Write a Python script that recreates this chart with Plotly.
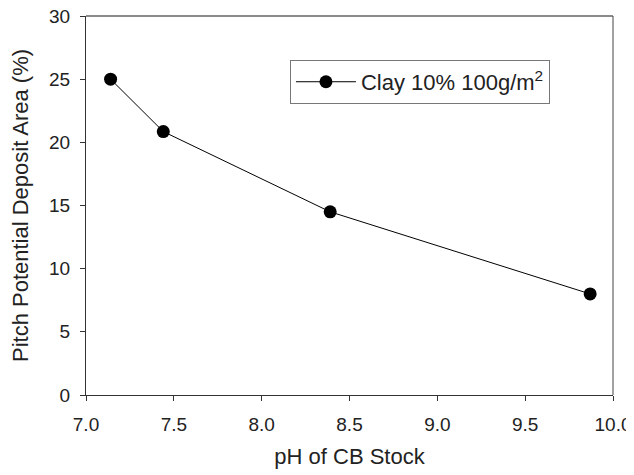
import plotly.graph_objects as go

ph = [7.14, 7.44, 8.39, 9.87]
area = [25.0, 20.85, 14.5, 8.0]
series_name = "Clay 10% 100g/m<sup>2</sup>"
x_ticks = [7.0, 7.5, 8.0, 8.5, 9.0, 9.5, 10.0]
x_ticklabels = ["7.0", "7.5", "8.0", "8.5", "9.0", "9.5", "10.0"]
y_ticks = [0, 5, 10, 15, 20, 25, 30]

font = "Liberation Sans, Arial, sans-serif"

fig = go.Figure()
fig.add_trace(go.Scatter(
    x=ph, y=area, mode="lines+markers", name=series_name,
    line=dict(color="black", width=1),
    marker=dict(color="black", size=13),
))

# page body has an 8px margin, so the figure is 8px smaller than the window
fig.update_layout(
    width=626, height=467,
    margin=dict(l=78, r=21, t=8, b=80, autoexpand=False),
    paper_bgcolor="white", plot_bgcolor="white",
    font=dict(family=font, size=19, color="#222"),
    showlegend=True,
    legend=dict(
        x=0.387, y=0.826, xanchor="left", yanchor="middle",
        bordercolor="#777", borderwidth=1, bgcolor="white",
        font=dict(size=22, color="#222"),
        itemwidth=60,
    ),
    xaxis=dict(
        range=[7.0, 10.0], tickvals=x_ticks, ticktext=x_ticklabels,
        showgrid=False, zeroline=False, automargin=False,
        showline=True, linecolor="#333", linewidth=1, mirror=False,
        ticks="outside", ticklen=5, tickcolor="#333",
        ticklabelstandoff=7, ticklabeloverflow="allow",
        title=dict(text="pH of CB Stock", standoff=14, font=dict(size=22)),
        tickfont=dict(size=19),
    ),
    yaxis=dict(
        range=[0, 30], tickvals=y_ticks,
        showgrid=False, zeroline=False, automargin=False,
        showline=True, linecolor="#333", linewidth=1, mirror=False,
        ticks="outside", ticklen=5, tickcolor="#333",
        ticklabelstandoff=6, ticklabeloverflow="allow",
        title=dict(text="Pitch Potential Deposit Area (%)", standoff=14, font=dict(size=22)),
        tickfont=dict(size=19),
    ),
)

# box border (top lighter/thicker, right dark)
fig.add_shape(type="line", xref="paper", yref="paper", x0=0, x1=1, y0=1, y1=1,
              line=dict(color="#8a8a8a", width=2))
fig.add_shape(type="line", xref="paper", yref="paper", x0=1, x1=1, y0=0, y1=1,
              line=dict(color="#444", width=1))

fig.write_html("out.html")
